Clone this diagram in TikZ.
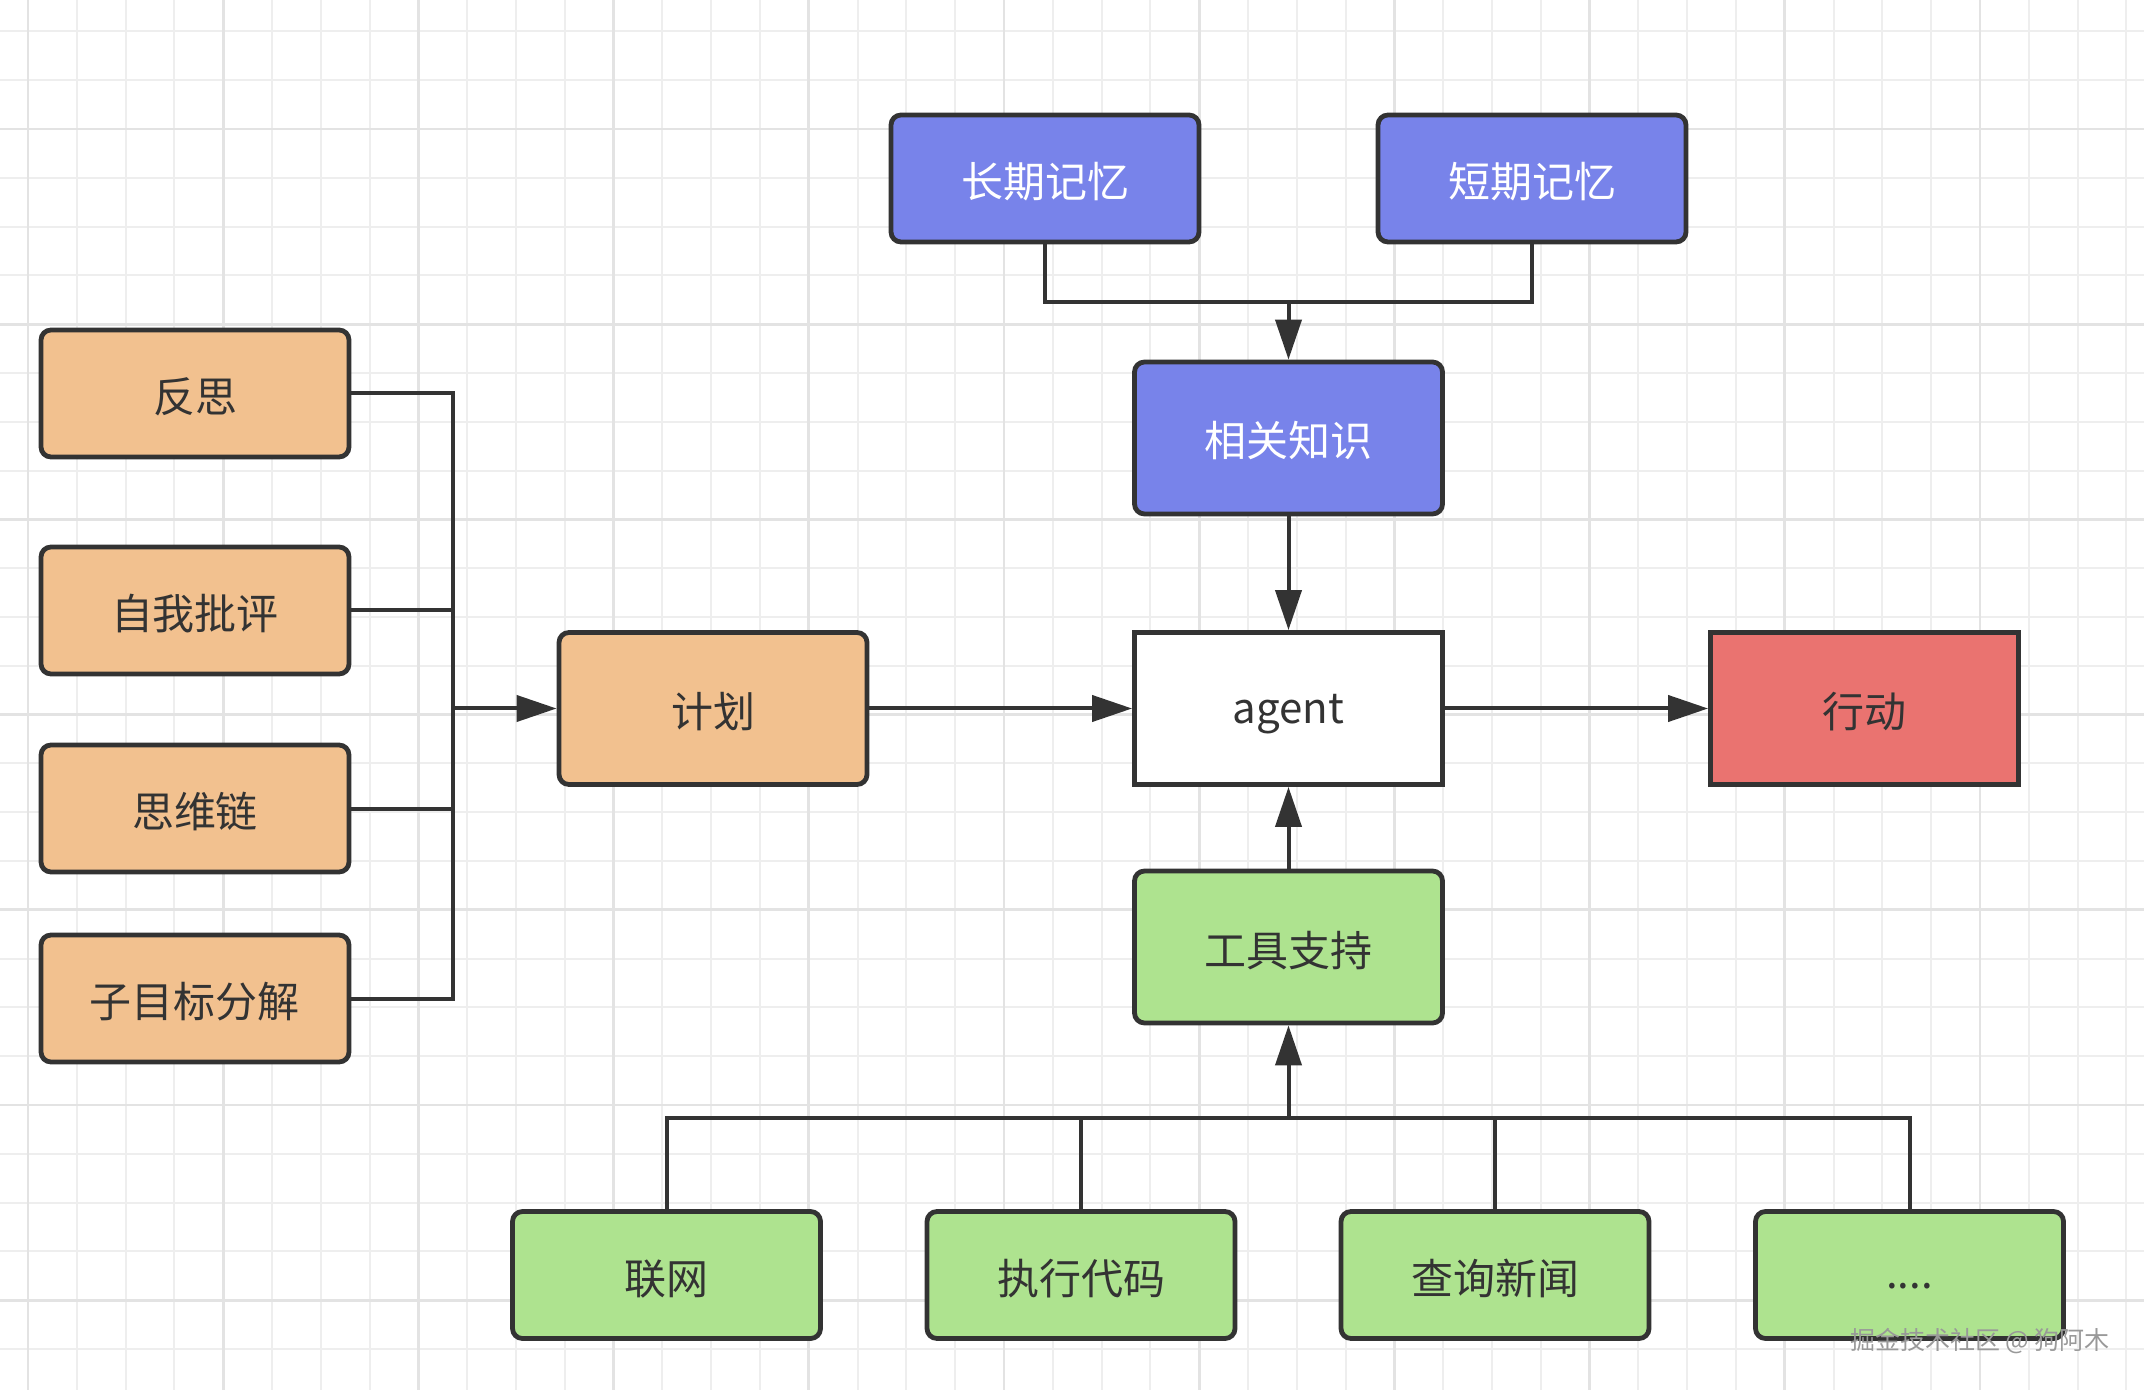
\documentclass[tikz,border=0pt]{standalone}
\usepackage{fontspec}
\setmainfont{Noto Sans CJK SC}
\usetikzlibrary{arrows.meta}
\definecolor{orangefill}{HTML}{F2C18F}
\definecolor{bluefill}{HTML}{7883EA}
\definecolor{greenfill}{HTML}{AEE38F}
\definecolor{redfill}{HTML}{EA7370}
\definecolor{edgec}{HTML}{333333}
\definecolor{gridminor}{HTML}{EEEEEE}
\definecolor{gridmajor}{HTML}{E3E3E3}
\begin{document}
\begin{tikzpicture}[x=0.5pt,y=-0.5pt,
  box/.style={draw=edgec, line width=2.4pt, rounded corners=5pt,
    minimum width=154pt, minimum height=63.5pt, inner sep=0pt,
    font=\fontsize{21}{25}\selectfont, text=edgec,
    text height=20pt, text depth=1pt},
  tall/.style={minimum height=76pt},
  orangebox/.style={box, fill=orangefill},
  bluebox/.style={box, fill=bluefill, text=white},
  greenbox/.style={box, fill=greenfill},
  conn/.style={draw=edgec, line width=2pt, line join=miter},
  arr/.style={conn, -{Triangle[length=20pt,width=13pt]}}
]
\fill[white] (0,0) rectangle (2144,1390);
\useasboundingbox (0,0) rectangle (2144,1390);
% grid
\foreach \k in {0,...,43} {
  \pgfmathsetmacro\xx{28+48.8*\k}
  \draw[gridminor, line width=1pt] (\xx,0) -- (\xx,1390);
}
\foreach \k in {0,...,27} {
  \pgfmathsetmacro\yy{31.4+48.8*\k}
  \draw[gridminor, line width=1pt] (0,\yy) -- (2144,\yy);
}
\foreach \k in {0,4,...,40} {
  \pgfmathsetmacro\xx{28+48.8*\k}
  \draw[gridmajor, line width=1.4pt] (\xx,0) -- (\xx,1390);
}
\foreach \k in {2,6,...,26} {
  \pgfmathsetmacro\yy{31.4+48.8*\k}
  \draw[gridmajor, line width=1.4pt] (0,\yy) -- (2144,\yy);
}
% nodes
\node[bluebox] (lt) at (1045,178.5) {长期记忆};
\node[bluebox] (st) at (1532,178.5) {短期记忆};
\node[bluebox, tall] (rk) at (1288.5,438) {相关知识};
\node[box, tall, fill=white, sharp corners, text height=15.5pt, text depth=0pt] (ag) at (1288.5,708.5) {agent};
\node[box, tall, fill=redfill, sharp corners] (xd) at (1864.5,708.5) {行动};
\node[orangebox, tall] (jh) at (713,708.5) {计划};
\node[greenbox, tall] (gj) at (1288.5,947) {工具支持};
\node[orangebox] (fs) at (195,393.5) {反思};
\node[orangebox] (zw) at (195,610.5) {自我批评};
\node[orangebox] (sw) at (195,808.5) {思维链};
\node[orangebox] (zm) at (195,998.5) {子目标分解};
\node[greenbox] (lw) at (666.5,1275) {联网};
\node[greenbox] (zx) at (1081,1275) {执行代码};
\node[greenbox] (cx) at (1495,1275) {查询新闻};
\node[greenbox, text height=14pt, text depth=0.4pt] (dd) at (1909.5,1275) {....};
% junctions
\coordinate (memj) at (1288.5,302);
\coordinate (lj) at (453,708.5);
\coordinate (bj) at (1288.5,1118);
% connectors
\draw[conn] (lt.south) |- (memj) -| (st.south);
\draw[arr] (memj) -- (rk.north);
\draw[arr] (rk.south) -- (ag.north);
\draw[arr] (jh.east) -- (ag.west);
\draw[arr] (ag.east) -- (xd.west);
\draw[arr] (gj.north) -- (ag.south);
\draw[conn] (fs.east) -| (lj);
\draw[conn] (zw.east) -| (lj);
\draw[conn] (sw.east) -| (lj);
\draw[conn] (zm.east) -| (lj);
\draw[arr] (lj) -- (jh.west);
\draw[conn] (lw.north) |- (bj);
\draw[conn] (zx.north) |- (bj);
\draw[conn] (cx.north) |- (bj);
\draw[conn] (dd.north) |- (bj);
\draw[arr] (bj) -- (gj.south);
% watermark
\node[text=gray!80, font=\fontsize{12.5}{14}\selectfont, inner sep=0pt] (wm) at (1980,1341) {掘金技术社区 @ 狗阿木};
\end{tikzpicture}
\end{document}
